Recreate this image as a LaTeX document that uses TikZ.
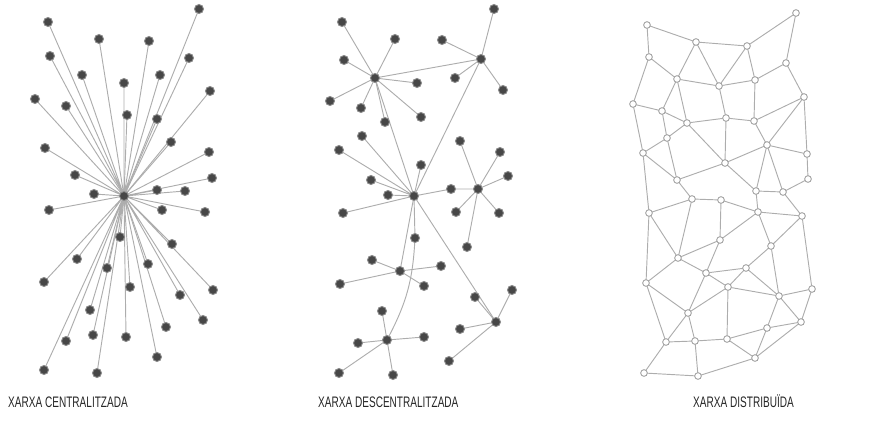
\documentclass[tikz,border=0pt]{standalone}
\usepackage{fontspec}
\newfontfamily\capfont[FakeStretch=0.66]{Liberation Sans}
\usetikzlibrary{backgrounds}

\tikzset{
	pnode/.style={draw=black!45,fill=black!72,circle,inner sep=0,outer sep=0,line width=0.8pt,minimum size=0.27cm},
	qnode/.style={draw=black!40,fill=white,circle,inner sep=0,outer sep=0,line width=0.7pt,minimum size=0.2cm},
	link/.style={draw=black!32,line width=0.8pt},
	caption/.style={anchor=base west,inner sep=0,text=black!85,font=\capfont\fontsize{13}{15}\selectfont}
}

\begin{document}
\begin{tikzpicture}[x=0.03cm,y=-0.03cm]
	\useasboundingbox (0,0) rectangle (871,421);
	% centralized
	\node[pnode] (p0) at (124,196) {};
	\node[pnode] (p1) at (48,22) {};
	\node[pnode] (p2) at (199,9) {};
	\node[pnode] (p3) at (99,39) {};
	\node[pnode] (p4) at (149,41) {};
	\node[pnode] (p5) at (50,56) {};
	\node[pnode] (p6) at (189,58) {};
	\node[pnode] (p7) at (82,75) {};
	\node[pnode] (p8) at (160,75) {};
	\node[pnode] (p9) at (124,83) {};
	\node[pnode] (p10) at (210,91) {};
	\node[pnode] (p11) at (35,99) {};
	\node[pnode] (p12) at (66,106) {};
	\node[pnode] (p13) at (127,115) {};
	\node[pnode] (p14) at (157,119) {};
	\node[pnode] (p15) at (171,142) {};
	\node[pnode] (p16) at (45,148) {};
	\node[pnode] (p17) at (209,152) {};
	\node[pnode] (p18) at (75,175) {};
	\node[pnode] (p19) at (212,178) {};
	\node[pnode] (p20) at (94,194) {};
	\node[pnode] (p21) at (157,190) {};
	\node[pnode] (p22) at (185,191) {};
	\node[pnode] (p23) at (49,210) {};
	\node[pnode] (p24) at (162,210) {};
	\node[pnode] (p25) at (205,212) {};
	\node[pnode] (p26) at (120,237) {};
	\node[pnode] (p27) at (172,244) {};
	\node[pnode] (p28) at (77,259) {};
	\node[pnode] (p29) at (107,268) {};
	\node[pnode] (p30) at (148,264) {};
	\node[pnode] (p31) at (44,282) {};
	\node[pnode] (p32) at (130,287) {};
	\node[pnode] (p33) at (213,290) {};
	\node[pnode] (p34) at (180,295) {};
	\node[pnode] (p35) at (90,310) {};
	\node[pnode] (p36) at (203,320) {};
	\node[pnode] (p37) at (166,327) {};
	\node[pnode] (p38) at (66,341) {};
	\node[pnode] (p39) at (93,335) {};
	\node[pnode] (p40) at (126,337) {};
	\node[pnode] (p41) at (157,357) {};
	\node[pnode] (p42) at (44,370) {};
	\node[pnode] (p43) at (97,373) {};
	\begin{pgfonlayer}{background}
		\draw[link] (p0) -- (p1) (p0) -- (p2) (p0) -- (p3) (p0) -- (p4) (p0) -- (p5) (p0) -- (p6) (p0) -- (p7) (p0) -- (p8) (p0) -- (p9) (p0) -- (p10) (p0) -- (p11);
		\draw[link] (p0) -- (p12) (p0) -- (p13) (p0) -- (p14) (p0) -- (p15) (p0) -- (p16) (p0) -- (p17) (p0) -- (p18) (p0) -- (p19) (p0) -- (p20) (p0) -- (p21) (p0) -- (p22);
		\draw[link] (p0) -- (p23) (p0) -- (p24) (p0) -- (p25) (p0) -- (p26) (p0) -- (p27) (p0) -- (p28) (p0) -- (p29) (p0) -- (p30) (p0) -- (p31) (p0) -- (p32) (p0) -- (p33);
		\draw[link] (p0) -- (p34) (p0) -- (p35) (p0) -- (p36) (p0) -- (p37) (p0) -- (p38) (p0) -- (p39) (p0) -- (p40) (p0) -- (p41) (p0) -- (p42) (p0) -- (p43);
	\end{pgfonlayer}

	% decentralized
	\node[pnode] (hA) at (375,78) {};
	\node[pnode] (hB) at (481,59) {};
	\node[pnode] (hC) at (414,196) {};
	\node[pnode] (hD) at (478,189) {};
	\node[pnode] (hE) at (400,271) {};
	\node[pnode] (hF) at (496,322) {};
	\node[pnode] (hG) at (387,340) {};
	\node[pnode] (a1) at (342,22) {};
	\node[pnode] (a2) at (395,39) {};
	\node[pnode] (a3) at (344,60) {};
	\node[pnode] (a4) at (417,83) {};
	\node[pnode] (a5) at (330,101) {};
	\node[pnode] (a6) at (361,108) {};
	\node[pnode] (a7) at (421,117) {};
	\node[pnode] (a8) at (385,122) {};
	\node[pnode] (b1) at (494,9) {};
	\node[pnode] (b2) at (442,40) {};
	\node[pnode] (b3) at (455,78) {};
	\node[pnode] (b4) at (503,90) {};
	\node[pnode] (c1) at (362,136) {};
	\node[pnode] (c2) at (339,150) {};
	\node[pnode] (c3) at (421,165) {};
	\node[pnode] (c4) at (371,180) {};
	\node[pnode] (c5) at (388,195) {};
	\node[pnode] (c6) at (451,189) {};
	\node[pnode] (c7) at (343,213) {};
	\node[pnode] (c8) at (415,238) {};
	\node[pnode] (d1) at (460,141) {};
	\node[pnode] (d2) at (500,152) {};
	\node[pnode] (d3) at (508,176) {};
	\node[pnode] (d4) at (456,212) {};
	\node[pnode] (d5) at (499,213) {};
	\node[pnode] (d6) at (467,247) {};
	\node[pnode] (e1) at (372,260) {};
	\node[pnode] (e2) at (441,266) {};
	\node[pnode] (e3) at (340,284) {};
	\node[pnode] (e4) at (424,286) {};
	\node[pnode] (f1) at (512,290) {};
	\node[pnode] (f2) at (475,297) {};
	\node[pnode] (f3) at (460,329) {};
	\node[pnode] (f4) at (449,361) {};
	\node[pnode] (g1) at (382,311) {};
	\node[pnode] (g2) at (358,343) {};
	\node[pnode] (g3) at (424,337) {};
	\node[pnode] (g4) at (339,373) {};
	\node[pnode] (g5) at (393,375) {};
	\begin{pgfonlayer}{background}
		\draw[link] (hA) -- (a1) (hA) -- (a2) (hA) -- (a3) (hA) -- (a4) (hA) -- (a5) (hA) -- (a6) (hA) -- (a7) (hA) -- (a8);
		\draw[link] (hB) -- (b1) (hB) -- (b2) (hB) -- (b3) (hB) -- (b4);
		\draw[link] (hC) -- (c1) (hC) -- (c2) (hC) -- (c3) (hC) -- (c4) (hC) -- (c5) (hC) -- (c6) (hC) -- (c7) (hC) -- (c8);
		\draw[link] (hD) -- (d1) (hD) -- (d2) (hD) -- (d3) (hD) -- (d4) (hD) -- (d5) (hD) -- (d6);
		\draw[link] (hE) -- (e1) (hE) -- (e2) (hE) -- (e3) (hE) -- (e4);
		\draw[link] (hF) -- (f1) (hF) -- (f2) (hF) -- (f3) (hF) -- (f4);
		\draw[link] (hG) -- (g1) (hG) -- (g2) (hG) -- (g3) (hG) -- (g4) (hG) -- (g5);
		\draw[link] (hA) -- (hB) (hA) -- (hC) (hB) -- (hC) (c6) -- (hD) (hC) -- (hE) (hC) -- (hF);
		\draw[link] (c8) to[bend left=12] (hG);
	\end{pgfonlayer}

	% distributed
	\node[qnode] (n1) at (647,25) {};
	\node[qnode] (n2) at (696,42) {};
	\node[qnode] (n3) at (747,46) {};
	\node[qnode] (n4) at (796,13) {};
	\node[qnode] (n5) at (649,57) {};
	\node[qnode] (n6) at (786,63) {};
	\node[qnode] (n7) at (677,79) {};
	\node[qnode] (n8) at (719,86) {};
	\node[qnode] (n9) at (755,80) {};
	\node[qnode] (n10) at (633,104) {};
	\node[qnode] (n11) at (662,111) {};
	\node[qnode] (n12) at (804,97) {};
	\node[qnode] (n13) at (726,118) {};
	\node[qnode] (n14) at (687,123) {};
	\node[qnode] (n15) at (754,121) {};
	\node[qnode] (n16) at (667,138) {};
	\node[qnode] (n17) at (767,145) {};
	\node[qnode] (n18) at (643,153) {};
	\node[qnode] (n19) at (807,154) {};
	\node[qnode] (n20) at (725,163) {};
	\node[qnode] (n21) at (808,179) {};
	\node[qnode] (n22) at (677,180) {};
	\node[qnode] (n23) at (756,191) {};
	\node[qnode] (n24) at (783,192) {};
	\node[qnode] (n25) at (692,199) {};
	\node[qnode] (n26) at (721,200) {};
	\node[qnode] (n27) at (649,213) {};
	\node[qnode] (n28) at (758,212) {};
	\node[qnode] (n29) at (802,216) {};
	\node[qnode] (n30) at (720,240) {};
	\node[qnode] (n31) at (771,246) {};
	\node[qnode] (n32) at (678,258) {};
	\node[qnode] (n33) at (706,273) {};
	\node[qnode] (n34) at (746,268) {};
	\node[qnode] (n35) at (646,283) {};
	\node[qnode] (n36) at (728,287) {};
	\node[qnode] (n37) at (779,296) {};
	\node[qnode] (n38) at (812,289) {};
	\node[qnode] (n39) at (688,313) {};
	\node[qnode] (n40) at (767,328) {};
	\node[qnode] (n41) at (801,322) {};
	\node[qnode] (n42) at (666,342) {};
	\node[qnode] (n43) at (695,341) {};
	\node[qnode] (n44) at (727,339) {};
	\node[qnode] (n45) at (755,358) {};
	\node[qnode] (n46) at (644,373) {};
	\node[qnode] (n47) at (698,376) {};
	\begin{pgfonlayer}{background}
		\draw[link] (n5) -- (n1) -- (n2) -- (n3) -- (n4) -- (n6) -- (n12) -- (n19) -- (n21) -- (n24) -- (n29) -- (n38) -- (n41) -- (n45) -- (n47) -- (n46) -- (n42) -- (n35) -- (n27) -- (n18) -- (n10) -- (n5);
		\draw[link] (n2) -- (n7) -- (n8) -- (n2) (n3) -- (n8) -- (n9) -- (n3) (n9) -- (n6);
		\draw[link] (n5) -- (n7) -- (n11) -- (n10) (n7) -- (n14) -- (n11) -- (n16) -- (n14) -- (n13) -- (n8);
		\draw[link] (n9) -- (n15) -- (n13) -- (n20) -- (n14) (n15) -- (n17) -- (n12) -- (n15);
		\draw[link] (n16) -- (n18) -- (n22) -- (n16) (n22) -- (n20) -- (n17) -- (n19) (n20) -- (n23) -- (n17) -- (n24) -- (n23) -- (n28);
		\draw[link] (n22) -- (n25) -- (n26) -- (n28) -- (n29) (n25) -- (n27) -- (n32) -- (n25) (n26) -- (n30) -- (n28) -- (n31) -- (n29);
		\draw[link] (n30) -- (n32) -- (n33) -- (n30) (n32) -- (n35) -- (n39) -- (n33) -- (n36) -- (n34) -- (n33) (n34) -- (n31) -- (n37) -- (n34);
		\draw[link] (n36) -- (n39) -- (n42) -- (n43) -- (n39) (n36) -- (n37) -- (n38) (n37) -- (n40) -- (n41) -- (n37) (n36) -- (n44) -- (n43) -- (n47);
		\draw[link] (n44) -- (n40) -- (n45) -- (n44);
	\end{pgfonlayer}

	% captions
	\node[caption] (t1) at (8,407) {XARXA CENTRALITZADA};
	\node[caption] (t2) at (318,407) {XARXA DESCENTRALITZADA};
	\node[caption] (t3) at (693,407) {XARXA DISTRIBUÏDA};
\end{tikzpicture}
\end{document}
